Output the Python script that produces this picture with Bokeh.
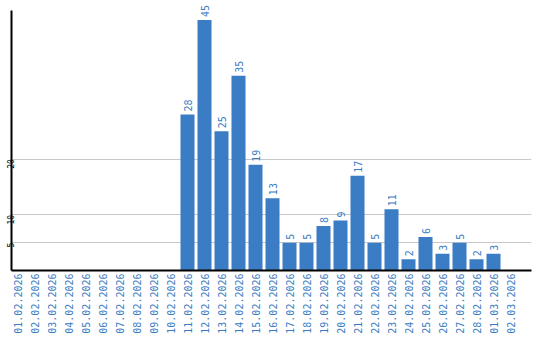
import math
from bokeh.plotting import figure
from bokeh.models import Range1d, FixedTicker, ColumnDataSource
from bokeh.core.properties import value
from bokeh.embed import file_html
from bokeh.resources import INLINE

dates = ["01.02.2026", "02.02.2026", "03.02.2026", "04.02.2026", "05.02.2026",
         "06.02.2026", "07.02.2026", "08.02.2026", "09.02.2026", "10.02.2026",
         "11.02.2026", "12.02.2026", "13.02.2026", "14.02.2026", "15.02.2026",
         "16.02.2026", "17.02.2026", "18.02.2026", "19.02.2026", "20.02.2026",
         "21.02.2026", "22.02.2026", "23.02.2026", "24.02.2026", "25.02.2026",
         "26.02.2026", "27.02.2026", "28.02.2026", "01.03.2026", "02.03.2026"]
counts = [0, 0, 0, 0, 0, 0, 0, 0, 0, 0,
          28, 45, 25, 35, 19, 13, 5, 5, 8, 9,
          17, 5, 11, 2, 6, 3, 5, 2, 3, 0]
y_ticks = [5, 10, 20]
y_axis_max = 46.7

BLUE = "#3a7dc4"
MONO = "DejaVu Sans Mono"

xs = list(range(len(dates)))
src = ColumnDataSource(dict(x=xs, top=counts))
lab_idx = [i for i, c in enumerate(counts) if c > 0]
lab_src = ColumnDataSource(dict(x=[xs[i] for i in lab_idx],
                                y=[counts[i] for i in lab_idx],
                                t=[str(counts[i]) for i in lab_idx]))

p = figure(width=540, height=340, output_backend="svg", toolbar_location=None,
           x_range=Range1d(-0.353, 30.235), y_range=Range1d(0, 48.5),
           min_border_left=11, min_border_right=9, min_border_top=0,
           min_border_bottom=70)
p.outline_line_color = None
p.background_fill_color = "white"
p.border_fill_color = "white"

p.vbar(x="x", top="top", bottom=0, width=14 / 17, source=src,
       fill_color=BLUE, line_color=None)
p.text(x="x", y="y", text="t", source=lab_src, angle=math.pi / 2,
       text_align="left", text_baseline="middle", y_offset=-3,
       text_color=BLUE, text_font=value(MONO), text_font_size="10px")

p.xgrid.grid_line_color = None
p.ygrid.ticker = FixedTicker(ticks=y_ticks)
p.ygrid.grid_line_color = "#c8c8c8"
p.ygrid.grid_line_width = 1

xa = p.xaxis[0]
xa.ticker = FixedTicker(ticks=xs)
xa.major_label_overrides = {i: d for i, d in enumerate(dates)}
xa.major_label_orientation = math.pi / 2
xa.major_label_text_color = BLUE
xa.major_label_text_font = MONO
xa.major_label_text_font_size = "10px"
xa.major_label_standoff = 3
xa.major_tick_line_color = None
xa.major_tick_out = 0
xa.minor_tick_line_color = None
xa.axis_line_color = "black"
xa.axis_line_width = 2

ya = p.yaxis[0]
ya.ticker = FixedTicker(ticks=y_ticks)
ya.bounds = (0, y_axis_max)
ya.major_label_orientation = math.pi / 2
ya.major_label_text_color = "black"
ya.major_label_text_font = MONO
ya.major_label_text_font_size = "8px"
ya.major_label_standoff = 1
ya.major_tick_line_color = None
ya.major_tick_in = 0
ya.major_tick_out = 0
ya.minor_tick_line_color = None
ya.minor_tick_out = 0
ya.axis_line_color = "black"
ya.axis_line_width = 2

open("out.html", "w").write(file_html(p, INLINE))
